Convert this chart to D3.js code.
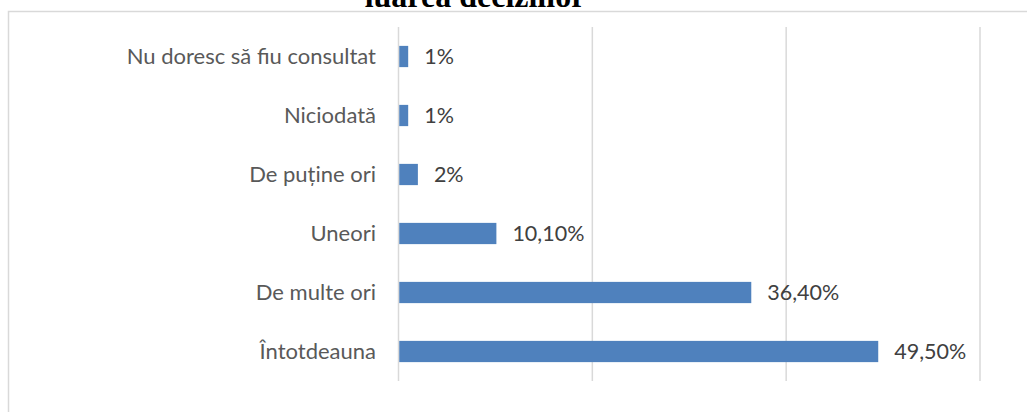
<!DOCTYPE html>
<html>
<head>
<meta charset="utf-8">
<script src="https://cdn.jsdelivr.net/npm/d3@7"></script>
<style>
  body { margin: 0; background: #fff; }
  svg { display: block; }
</style>
</head>
<body>
<div id="chart"></div>
<script>
// categories, top to bottom as drawn
var categories = ["Nu doresc să fiu consultat", "Niciodată", "De puține ori", "Uneori", "De multe ori", "Întotdeauna"];
var values = [1, 1, 2, 10.1, 36.4, 49.5];
var valueLabels = ["1%", "1%", "2%", "10,10%", "36,40%", "49,50%"];
var gridTicks = [0, 20, 40, 60];
var titleLine = "luarea deciziilor";

var width = 1027, height = 412;

var svg = d3.select("#chart").append("svg")
    .attr("width", width)
    .attr("height", height);

// chart frame (only top and left edges are in view)
svg.append("path")
    .attr("d", "M8.5,413 L8.5,11.5 L1030,11.5")
    .attr("fill", "none")
    .attr("stroke", "#d9d9d9")
    .attr("stroke-width", 1.5);

// title, cut by the top of the picture as in the source
svg.append("text")
    .attr("x", 475)
    .attr("y", 7)
    .attr("text-anchor", "middle")
    .style("font-family", "'Liberation Serif', 'Times New Roman', serif")
    .style("font-weight", "bold")
    .style("font-size", "32px")
    .attr("fill", "#000")
    .text(titleLine);

var x = d3.scaleLinear().domain([0, 60]).range([398.5, 980]);
var y = d3.scaleBand().domain(categories).range([27, 381]).paddingInner(0.64).paddingOuter(0.32);

// vertical grid lines
svg.append("g")
    .selectAll("line")
    .data(gridTicks)
    .join("line")
    .attr("x1", function(d) { return x(d); })
    .attr("x2", function(d) { return x(d); })
    .attr("y1", 27)
    .attr("y2", 381)
    .attr("stroke", "#d9d9d9")
    .attr("stroke-width", 1.5);

// bars
svg.append("g")
    .selectAll("rect")
    .data(categories)
    .join("rect")
    .attr("x", x(0) + 0.75)
    .attr("y", function(d) { return y(d); })
    .attr("width", function(d, i) { return x(values[i]) - x(0) - 0.75; })
    .attr("height", y.bandwidth())
    .attr("fill", "#4f81bd");

// category labels
svg.append("g")
    .selectAll("text")
    .data(categories)
    .join("text")
    .attr("x", 376)
    .attr("y", function(d) { return y(d) + y.bandwidth() / 2; })
    .attr("dy", "0.35em")
    .attr("text-anchor", "end")
    .style("font-family", "Lato, 'Open Sans', sans-serif")
    .style("font-size", "22px")
    .attr("fill", "#595959")
    .text(function(d) { return d; });

// value labels
svg.append("g")
    .selectAll("text")
    .data(categories)
    .join("text")
    .attr("x", function(d, i) { return x(values[i]) + 16; })
    .attr("y", function(d) { return y(d) + y.bandwidth() / 2; })
    .attr("dy", "0.35em")
    .style("font-family", "Lato, 'Open Sans', sans-serif")
    .style("font-size", "21.5px")
    .attr("fill", "#404040")
    .text(function(d, i) { return valueLabels[i]; });
</script>
</body>
</html>
